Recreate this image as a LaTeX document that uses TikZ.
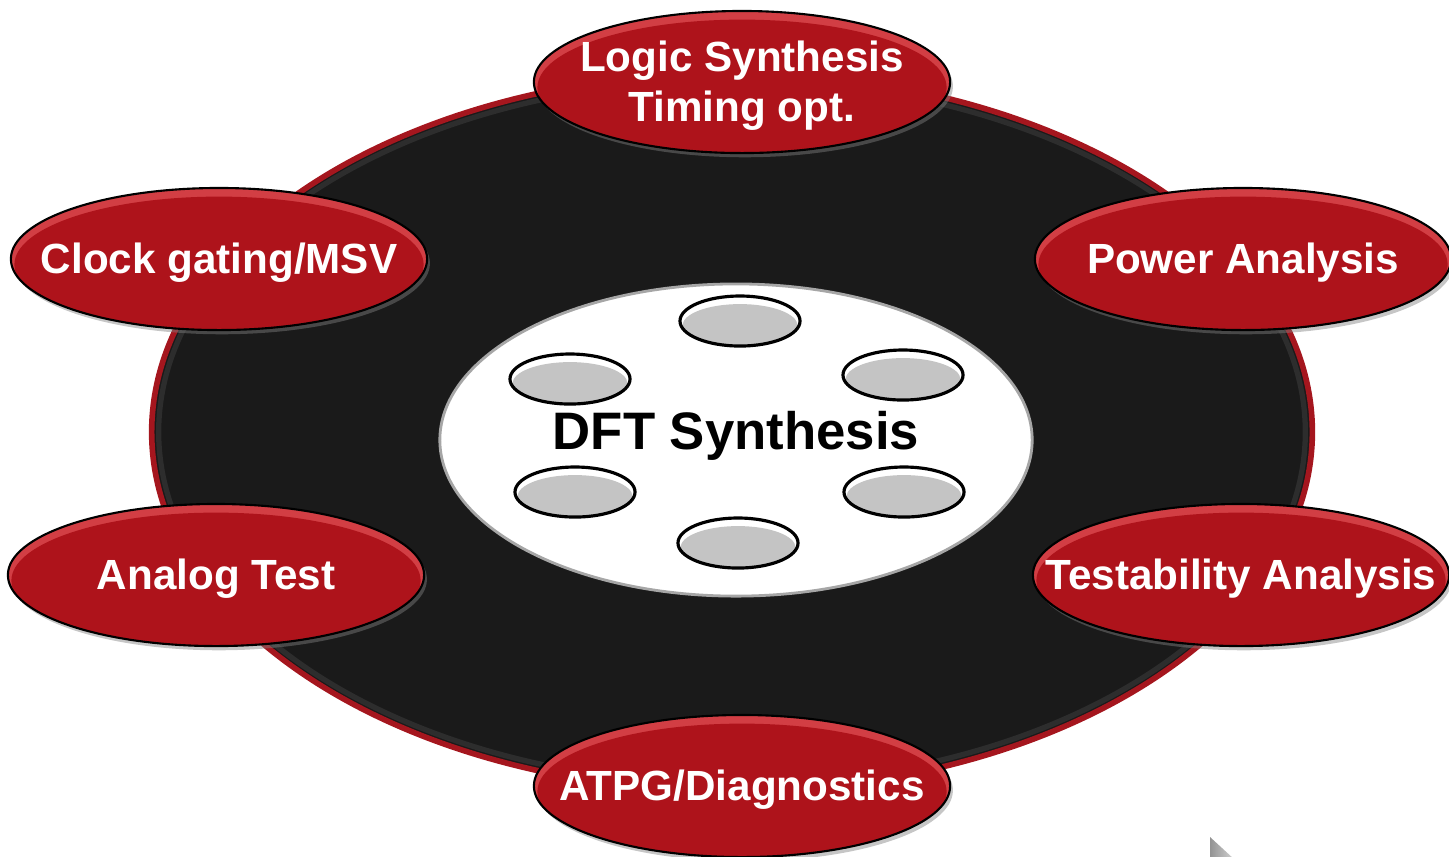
\documentclass[tikz,border=0pt]{standalone}
\usepackage{fontspec}
\setmainfont{Liberation Sans}
\usetikzlibrary{shapes.geometric,shadows}
\definecolor{redmain}{RGB}{174,19,27}
\definecolor{redlight}{RGB}{210,62,68}
\definecolor{basefill}{RGB}{26,26,26}
\definecolor{rimred}{RGB}{165,22,30}
\definecolor{pillgray}{RGB}{196,196,196}
\tikzset{
  redpill/.style={ellipse, inner sep=0pt, minimum width=4.16cm, minimum height=1.42cm,
    fill=redlight, draw=black, line width=0.6pt,
    drop shadow={opacity=0.45, shadow xshift=0.8pt, shadow yshift=-1.2pt},
    path picture={\fill[redmain] ([yshift=-1.6pt]path picture bounding box.center)
      ellipse [x radius=2.045cm, y radius=0.68cm];}},
  redtext/.style={text=white, font=\fontsize{12}{14.2}\selectfont\bfseries, align=center, inner sep=0pt},
  graypill/.style={ellipse, inner sep=0pt, minimum width=1.2cm, minimum height=0.5cm,
    fill=white, draw=black, line width=0.9pt,
    path picture={\fill[pillgray] ([yshift=-1.3pt]path picture bounding box.center)
      ellipse [x radius=0.575cm, y radius=0.215cm];}},
  hubstyle/.style={ellipse, inner sep=0pt, minimum width=5.92cm, minimum height=3.12cm,
    fill=white, draw=gray!70, line width=0.8pt},
  hubtext/.style={font=\fontsize{15}{18}\selectfont\bfseries, inner sep=0pt},
  basestyle/.style={ellipse, inner sep=0pt, minimum width=11.6cm, minimum height=7.18cm,
    fill=basefill, draw=rimred, line width=1.6pt}
}
\begin{document}
\begin{tikzpicture}[x=0.01cm, y=-0.01cm]
\useasboundingbox (0,0) rectangle (1449,856);
% base disc
\node[basestyle] (base) at (732,432) {};
\node[ellipse, inner sep=0pt, minimum width=11.46cm, minimum height=7.04cm,
      draw=gray!35!black, line width=1.5pt] (basering) at (732,432) {};
% hub
\node[hubstyle] (hub) at (736,440) {};
\node[hubtext] (hubt) at (736,436) {DFT Synthesis};
% small gray pills
\node[graypill] (g1) at (740,321) {};
\node[graypill] (g2) at (570,379) {};
\node[graypill] (g3) at (903,375) {};
\node[graypill] (g4) at (575,492) {};
\node[graypill] (g5) at (904,492) {};
\node[graypill] (g6) at (738,543) {};
% red pills
\node[redpill] (logic) at (742,82) {};
\node[redpill] (clock) at (219,259) {};
\node[redpill] (power) at (1243,259) {};
\node[redpill] (analog) at (216,575) {};
\node[redpill] (testab) at (1241,575) {};
\node[redpill] (atpg) at (742,786) {};
\node[redtext] (logict) at ([yshift=-1pt]logic.center) {Logic Synthesis\\Timing opt.};
\node[redtext] (clockt) at ([yshift=-1pt]clock.center) {Clock gating/MSV};
\node[redtext] (powert) at ([yshift=-1pt]power.center) {Power Analysis};
\node[redtext] (analogt) at ([yshift=-1pt]analog.center) {Analog Test};
\node[redtext] (testabt) at ([yshift=-1pt]testab.center) {Testability Analysis};
\node[redtext] (atpgt) at ([yshift=-1pt]atpg.center) {ATPG/Diagnostics};
% cursor fragment
\coordinate (cur) at (1210,837);
\shade[left color=gray!85, right color=gray!35] (cur) -- ++(24,22) -- ++(-24,0) -- cycle;
\end{tikzpicture}
\end{document}
